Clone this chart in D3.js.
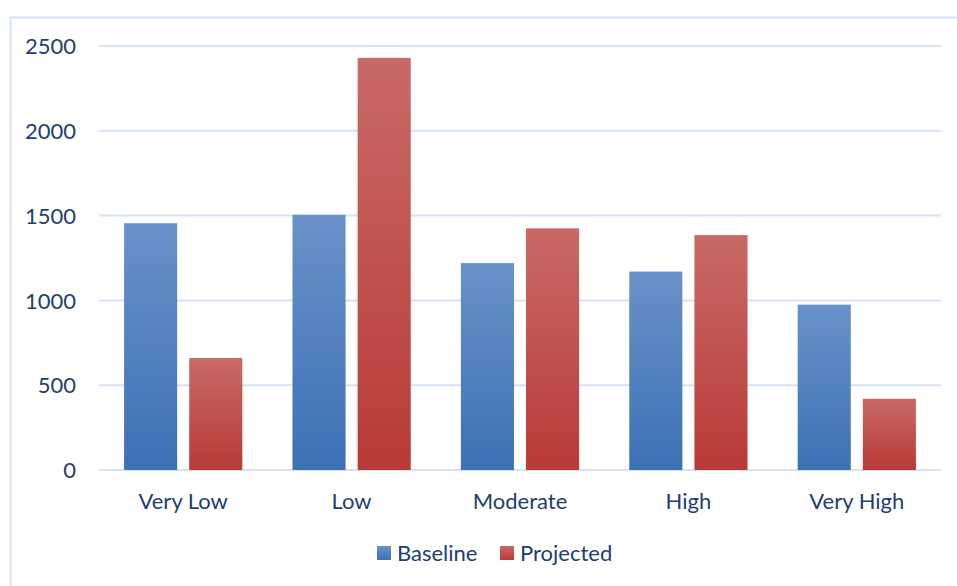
<!DOCTYPE html>
<html>
<head>
<meta charset="utf-8">
<script src="https://cdn.jsdelivr.net/npm/d3@7"></script>
<style>
  html, body { margin: 0; padding: 0; background: #fff; }
  svg text { font-family: Lato, "Open Sans", sans-serif; fill: #22406f; }
</style>
</head>
<body>
<svg id="chart" width="957" height="586"></svg>
<script>
const categories = ["Very Low", "Low", "Moderate", "High", "Very High"];
const seriesNames = ["Baseline", "Projected"];
const baseline = [1455, 1505, 1220, 1170, 975];
const projected = [660, 2430, 1425, 1385, 420];
const yTicks = [0, 500, 1000, 1500, 2000, 2500];

const svg = d3.select("#chart");
const W = 957, H = 586;
const margin = { left: 99, right: 16, top: 46, bottom: 116 };
const plotW = W - margin.left - margin.right;
const plotH = H - margin.top - margin.bottom;
const fontSize = "22px";

// outer frame (open on right/bottom, running past the page edge)
svg.append("rect")
  .attr("x", 10.5).attr("y", 17.5)
  .attr("width", W + 20).attr("height", H + 20)
  .attr("fill", "none").attr("stroke", "#d6e3f5").attr("stroke-width", 2);

const defs = svg.append("defs");
const grads = [
  { id: "gBase", top: "#6a91c9", bottom: "#3c71b4" },
  { id: "gProj", top: "#c86a66", bottom: "#b83a37" }
];
grads.forEach(g => {
  const lg = defs.append("linearGradient").attr("id", g.id)
    .attr("x1", 0).attr("y1", 0).attr("x2", 0).attr("y2", 1);
  lg.append("stop").attr("offset", "0%").attr("stop-color", g.top);
  lg.append("stop").attr("offset", "100%").attr("stop-color", g.bottom);
});

const g = svg.append("g").attr("transform", `translate(${margin.left},${margin.top})`);

const x0 = d3.scaleBand().domain(categories).range([0, plotW]).paddingInner(0).paddingOuter(0);
const x1 = d3.scaleBand().domain(seriesNames).range([0, x0.bandwidth()]).paddingInner(0.185).paddingOuter(0.385);
const y = d3.scaleLinear().domain([0, 2500]).range([plotH, 0]);

// gridlines
g.append("g").selectAll("line").data(yTicks).join("line")
  .attr("x1", 0).attr("x2", plotW)
  .attr("y1", d => y(d)).attr("y2", d => y(d))
  .attr("stroke", "#d6e3f5").attr("stroke-width", 2);

// y axis labels
const yAxis = d3.axisLeft(y).tickValues(yTicks).tickFormat(d3.format("d")).tickSize(0).tickPadding(23);
const ya = g.append("g").call(yAxis);
ya.select(".domain").remove();
ya.selectAll("text").style("font-size", fontSize).attr("dy", "0.35em")
  .style("fill", "#22406f").style("font-family", "Lato, 'Open Sans', sans-serif");

// bars
const data = categories.map((c, i) => ({ cat: c, vals: [
  { s: "Baseline", v: baseline[i], fill: "url(#gBase)" },
  { s: "Projected", v: projected[i], fill: "url(#gProj)" }
]}));

const groups = g.append("g").selectAll("g").data(data).join("g")
  .attr("transform", d => `translate(${x0(d.cat)},0)`);
groups.selectAll("rect").data(d => d.vals).join("rect")
  .attr("x", d => x1(d.s))
  .attr("width", x1.bandwidth())
  .attr("y", d => y(d.v))
  .attr("height", d => y(0) - y(d.v))
  .attr("fill", d => d.fill);

// x axis labels
const xAxis = d3.axisBottom(x0).tickSize(0).tickPadding(23);
const xa = g.append("g").attr("transform", `translate(0,${plotH})`).call(xAxis);
xa.select(".domain").remove();
xa.selectAll("text").style("font-size", fontSize)
  .style("fill", "#22406f").style("font-family", "Lato, 'Open Sans', sans-serif");

// legend
const legend = svg.append("g").attr("transform", "translate(377,553)");
const items = [
  { name: "Baseline", fill: "url(#gBase)", x: 0 },
  { name: "Projected", fill: "url(#gProj)", x: 123 }
];
const li = legend.selectAll("g").data(items).join("g")
  .attr("transform", d => `translate(${d.x},0)`);
li.append("rect").attr("x", 0).attr("y", -7).attr("width", 14).attr("height", 14)
  .attr("fill", d => d.fill);
li.append("text").attr("x", 20).attr("y", 0).attr("dy", "0.35em")
  .style("font-size", fontSize).text(d => d.name);
</script>
</body>
</html>
